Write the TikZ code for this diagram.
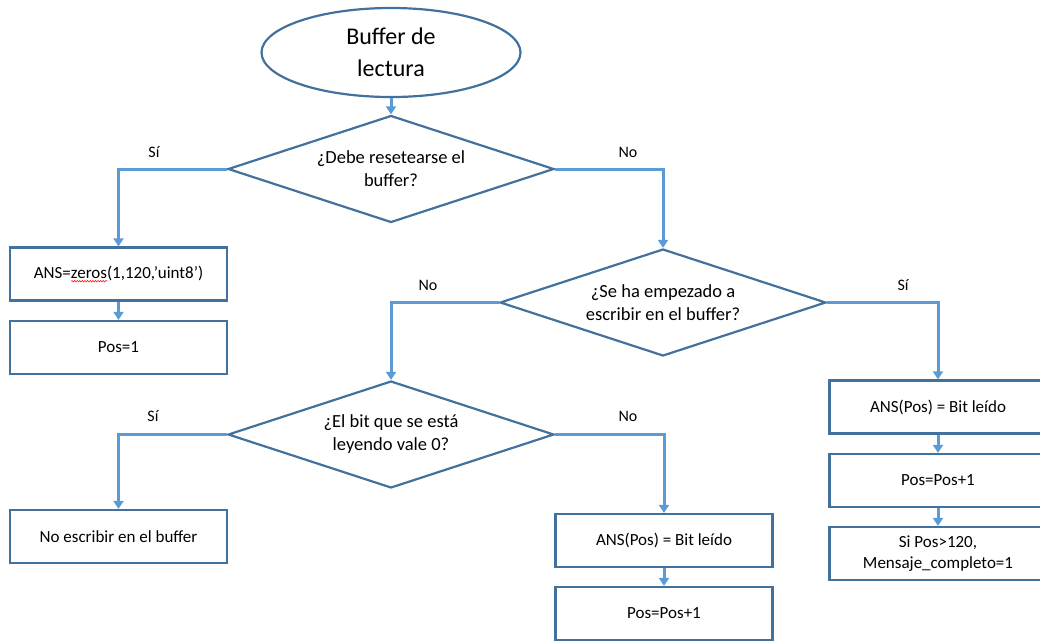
\documentclass[tikz,border=0pt]{standalone}
\usepackage{fontspec}
\setmainfont{Carlito}
\usetikzlibrary{shapes.geometric,arrows.meta,decorations.pathmorphing}
\definecolor{edge}{HTML}{41719C}
\definecolor{flow}{HTML}{5B9BD5}
% red wavy underline, as a spell checker marks a word
\newsavebox\wavebox
\newcommand\spellwave[1]{\sbox\wavebox{#1}\rlap{\tikz[baseline=0pt]\draw[red,line width=0.5pt,decorate,decoration={snake,amplitude=0.8pt,segment length=2.6pt}] (0pt,-3pt) -- (\wd\wavebox,-3pt);}\usebox\wavebox}
\begin{document}
\begin{tikzpicture}[x=1pt,y=-1pt,
  box/.style={draw=edge,line width=2.2pt,minimum width=217pt,minimum height=53pt,
    inner sep=0pt,align=center,font=\fontsize{17}{21}\selectfont},
  choice/.style={diamond,draw=edge,line width=2.2pt,shape aspect=3.07,
    minimum width=326pt,minimum height=107pt,inner sep=0pt,align=center,
    font=\fontsize{18.5}{23}\selectfont},
  terminal/.style={ellipse,draw=edge,line width=2.2pt,minimum width=259pt,
    minimum height=89pt,inner sep=0pt,align=center,font=\fontsize{24}{32}\selectfont},
  flowarrow/.style={draw=flow,line width=3pt,-{Triangle[width=10pt,length=8pt]}},
  lbl/.style={inner sep=0pt,font=\fontsize{16}{18}\selectfont}]
\useasboundingbox (0,0) rectangle (1040,641);
\clip (0,0) rectangle (1040,641);

% start
\node[terminal] (start) at (391,52.5) {Buffer de\\lectura};

% decisions
\node[choice] (q1) at (391,169) {¿Debe resetearse el\\buffer?};
\node[choice] (q2) at (663,302.5) {¿Se ha empezado a\\escribir en el buffer?};
\node[choice] (q3) at (391,434.5) {¿El bit que se está\\leyendo vale 0?};

% reset branch
\node[box] (zero) at (118.5,274) {ANS=\spellwave{zeros}(1,120,’uint8’)};
\node[box] (pos1) at (118.5,347.5) {Pos=1};

% bit equals zero
\node[box] (skip) at (118.5,536.5) {No escribir en el buffer};

% writing started
\node[box] (wr2) at (664,540.5) {ANS(Pos) = Bit leído};
\node[box] (inc2) at (664,613.5) {Pos=Pos+1};

\node[box] (wr1) at (938,407) {ANS(Pos) = Bit leído};
\node[box] (inc1) at (938,480.5) {Pos=Pos+1};
\node[box] (done) at (938,553.5) {Si Pos>120,\\Mensaje\_completo=1};

% connectors
\draw[flowarrow] (start) -- (q1);
\draw[flowarrow] (q1.west) -| (zero.north);
\draw[flowarrow] (q1.east) -| (q2.north);
\draw[flowarrow] (zero) -- (pos1);
\draw[flowarrow] (q2.west) -| (q3.north);
\draw[flowarrow] (q2.east) -| (wr1.north);
\draw[flowarrow] (q3.west) -| (skip.north);
\draw[flowarrow] (q3.east) -| (wr2.north);
\draw[flowarrow] (wr2) -- (inc2);
\draw[flowarrow] (wr1) -- (inc1);
\draw[flowarrow] (inc1) -- (done);

% branch labels
\node[lbl] (l1) at (154,152) {Sí};
\node[lbl] (l2) at (628,152) {No};
\node[lbl] (l3) at (428,285) {No};
\node[lbl] (l4) at (903,285) {Sí};
\node[lbl] (l5) at (153,416) {Sí};
\node[lbl] (l6) at (628,416) {No};
\end{tikzpicture}
\end{document}
